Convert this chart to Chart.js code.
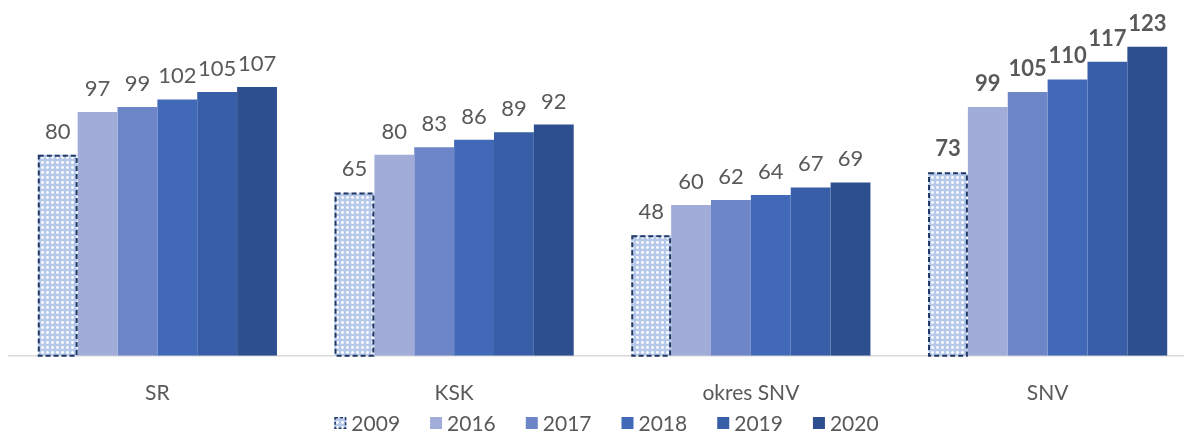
<!DOCTYPE html>
<html>
<head>
<meta charset="utf-8">
<script src="https://cdn.jsdelivr.net/npm/chart.js@4.4.1/dist/chart.umd.min.js"></script>
<style>
  html, body { margin: 0; padding: 0; background: #fff; overflow: hidden; }
  #wrap { width: 1196px; height: 435px; }
</style>
</head>
<body>
<div id="wrap"><canvas id="chart" width="1196" height="435"></canvas></div>
<script>
// categories and series
const regions = ['SR', 'KSK', 'okres SNV', 'SNV'];
const years = ['2009', '2016', '2017', '2018', '2019', '2020'];
const v2009 = [80, 65, 48, 73];
const v2016 = [97, 80, 60, 99];
const v2017 = [99, 83, 62, 105];
const v2018 = [102, 86, 64, 110];
const v2019 = [105, 89, 67, 117];
const v2020 = [107, 92, 69, 123];

const colors = ['#c9d7f0', '#a1acd8', '#6c86c7', '#4169b8', '#375ea6', '#2e4f8f'];
const borderDark = '#203864';
const textColor = '#595959';
const fontFamily = "Lato, 'Open Sans', sans-serif";

// dotted pattern for 2009
function dotPattern() {
    const c = document.createElement('canvas');
    c.width = 5; c.height = 5;
    const g = c.getContext('2d');
    g.fillStyle = '#b7c9ea';
    g.fillRect(0, 0, 5, 5);
    g.fillStyle = '#ffffff';
    g.beginPath();
    g.arc(2.5, 2.5, 1.4, 0, Math.PI * 2);
    g.fill();
    return g.createPattern(c, 'repeat');
}
const pattern = dotPattern();

const seriesValues = [v2009, v2016, v2017, v2018, v2019, v2020];
const datasets = years.map((y, i) => ({
    label: y,
    data: seriesValues[i],
    backgroundColor: i === 0 ? pattern : colors[i],
    borderWidth: 0,
    barPercentage: 1,
    categoryPercentage: 0.806
}));

// labels on top of bars + dashed border for 2009
const barLabels = {
    id: 'barLabels',
    afterDatasetsDraw(chart) {
        const ctx = chart.ctx;
        ctx.save();
        // dashed outline for 2009 bars
        const meta0 = chart.getDatasetMeta(0);
        ctx.strokeStyle = borderDark;
        ctx.lineWidth = 2;
        ctx.setLineDash([5, 3]);
        meta0.data.forEach(bar => {
            const half = bar.width / 2;
            ctx.strokeRect(bar.x - half + 1, bar.y + 1, bar.width - 2, bar.base - bar.y - 1);
        });
        ctx.setLineDash([]);

        ctx.textAlign = 'center';
        ctx.textBaseline = 'alphabetic';
        chart.data.datasets.forEach((ds, di) => {
            const meta = chart.getDatasetMeta(di);
            meta.data.forEach((bar, idx) => {
                const bold = idx === 3;
                ctx.font = (bold ? 'bold ' : '') + '22px ' + fontFamily;
                ctx.fillStyle = textColor;
                ctx.fillText(ds.data[idx], bar.x, bar.y - 16);
            });
        });
        ctx.restore();
    }
};

// simple legend row under the axis
const bottomLegend = {
    id: 'bottomLegend',
    afterDraw(chart) {
        const ctx = chart.ctx;
        const box = 12, gap = 5, spacing = 30;
        const y = 423;
        ctx.save();
        ctx.font = '21px ' + fontFamily;
        ctx.textBaseline = 'middle';
        ctx.textAlign = 'left';
        const items = chart.data.datasets.map(ds => ({
            text: ds.label, bg: ds.backgroundColor, w: box + gap + ctx.measureText(ds.label).width
        }));
        const total = items.reduce((s, it) => s + it.w, 0) + spacing * (items.length - 1);
        let x = (chart.chartArea.left + chart.chartArea.right) / 2 - total / 2 + 4;
        items.forEach((it, i) => {
            ctx.fillStyle = it.bg;
            ctx.fillRect(x, y - box / 2, box, box);
            if (i === 0) {
                ctx.strokeStyle = borderDark;
                ctx.lineWidth = 1.5;
                ctx.setLineDash([3, 2]);
                ctx.strokeRect(x + 0.75, y - box / 2 + 0.75, box - 1.5, box - 1.5);
                ctx.setLineDash([]);
            }
            ctx.fillStyle = textColor;
            ctx.fillText(it.text, x + box + gap, y + 1);
            x += it.w + spacing;
        });
        ctx.restore();
    }
};

const ctx = document.getElementById('chart').getContext('2d');
const chart = new Chart(ctx, {
    type: 'bar',
    data: { labels: regions, datasets: datasets },
    options: {
        responsive: false,
        animation: false,
        layout: { padding: { left: 9, right: 0, top: 4, bottom: 4 } },
        plugins: {
            tooltip: { enabled: false },
            legend: { display: false }
        },
        scales: {
            x: {
                grid: { display: false, drawTicks: false },
                border: { color: '#d9d9d9', width: 1.5 },
                ticks: {
                    color: textColor,
                    padding: 25,
                    font: { family: fontFamily, size: 21 }
                }
            },
            y: {
                display: false,
                min: 0,
                max: 140
            }
        }
    },
    plugins: [barLabels, bottomLegend]
});
</script>
</body>
</html>
